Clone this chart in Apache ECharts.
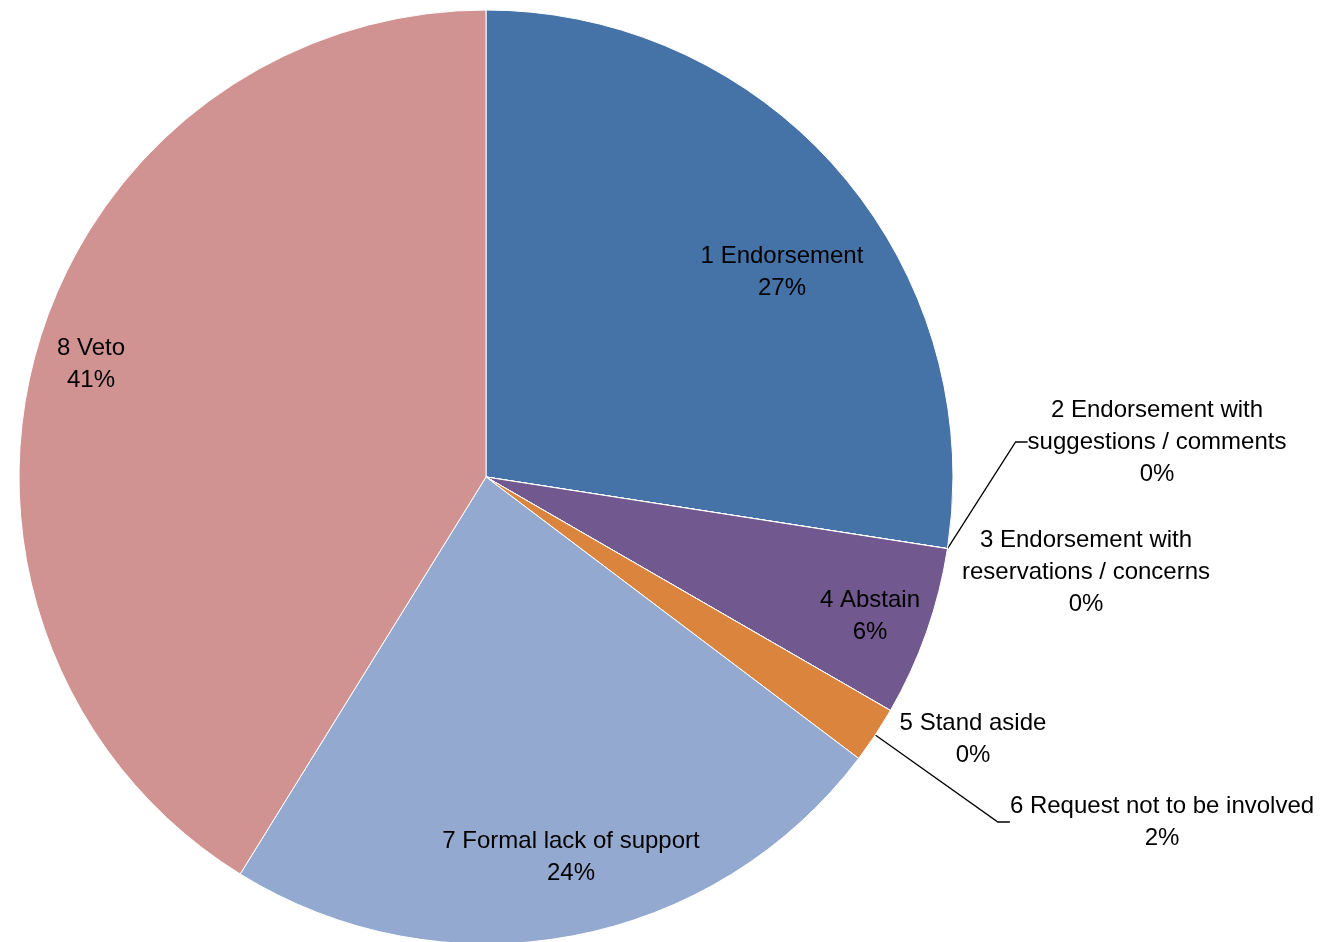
<!DOCTYPE html>
<html>
<head>
<meta charset="utf-8">
<script src="https://cdn.jsdelivr.net/npm/echarts@6/dist/echarts.min.js"></script>
<style>
  html, body { margin: 0; padding: 0; background: #fff; }
  #main { width: 1331px; height: 942px; }
</style>
</head>
<body>
<div id="main"></div>
<script>
// responses (counts), percentages are computed by echarts
const categories = [
    '1 Endorsement',
    '2 Endorsement with\nsuggestions / comments',
    '3 Endorsement with\nreservations / concerns',
    '4 Abstain',
    '5 Stand aside',
    '6 Request not to be involved',
    '7 Formal lack of support',
    '8 Veto'
];
const counts = [14, 0, 0, 3, 0, 1, 12, 21];
const colors = ['#4572A7', '#AA4643', '#89A54E', '#71588F', '#4198AF', '#DB843D', '#93A9CF', '#D19392'];

// where each label sits (center of text block)
const labelPos = [
    [782, 272], [1157, 442], [1086, 572], [870, 616],
    [973, 739], [1162, 822], [571, 857], [91, 364]
];
const withLeader = [1, 5];

const chart = echarts.init(document.getElementById('main'));

const option = {
    animation: false,
    series: [{
        type: 'pie',
        center: [486, 477],
        radius: [0, 467],
        startAngle: 90,
        clockwise: true,
        percentPrecision: 0,
        avoidLabelOverlap: false,
        itemStyle: {
            borderColor: '#fff',
            borderWidth: 1
        },
        label: {
            show: true,
            position: 'outside',
            formatter: '{b}\n{d}%',
            fontFamily: 'Liberation Sans',
            fontSize: 24,
            lineHeight: 32,
            color: '#000',
            align: 'center'
        },
        labelLine: {
            show: false
        },
        labelLayout: function (params) {
            const p = labelPos[params.dataIndex];
            return {
                x: p[0],
                y: p[1],
                align: 'center',
                verticalAlign: 'middle'
            };
        },
        emphasis: { disabled: true },
        data: categories.map(function (name, i) {
            const item = {
                name: name,
                value: counts[i],
                itemStyle: { color: colors[i] }
            };
            if (withLeader.indexOf(i) >= 0) {
                item.labelLine = {
                    show: true,
                    length: 20,
                    length2: 12,
                    lineStyle: { color: '#000', width: 1.3 }
                };
            }
            return item;
        })
    }]
};
chart.setOption(option);
</script>
</body>
</html>
